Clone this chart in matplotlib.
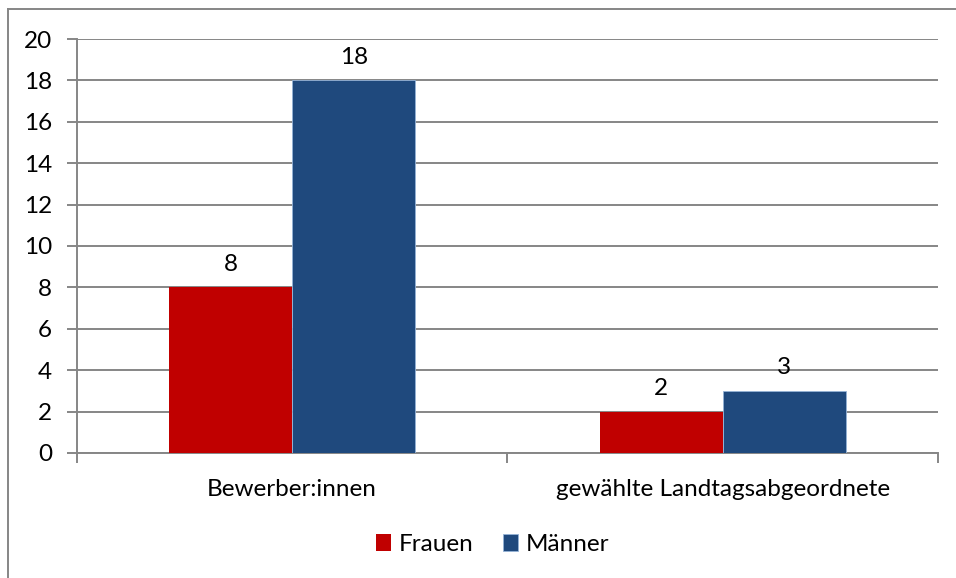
import matplotlib.pyplot as plt
from matplotlib.lines import Line2D

categories = ['Bewerber:innen', 'gewählte Landtagsabgeordnete']
frauen = [8, 2]
maenner = [18, 3]
series_names = ['Frauen', 'Männer']
yticks = [0, 2, 4, 6, 8, 10, 12, 14, 16, 18, 20]

red = '#C00000'
blue = '#1F497D'
grey = '#868686'
fs = 17.5

plt.rcParams['font.family'] = ['Lato', 'DejaVu Sans']

fig = plt.figure(figsize=(9.56, 5.78), dpi=100)
ax = fig.add_axes([0.0805, 0.2163, 0.9005, 0.7162])

w = 0.286
x = list(range(len(categories)))
b1 = ax.bar([i - w / 2 for i in x], frauen, w, color=red, label=series_names[0], zorder=3)
b2 = ax.bar([i + w / 2 for i in x], maenner, w, color=blue, label=series_names[1], zorder=3,
            edgecolor='#95B3D7', linewidth=0.6)

for bars in (b1, b2):
    for r in bars:
        ax.annotate(f'{r.get_height():g}', (r.get_x() + r.get_width() / 2, r.get_height()),
                    xytext=(0, 12), textcoords='offset points', ha='center', va='baseline',
                    fontsize=fs, color='black')

ax.set_xlim(-0.5, 1.5)
ax.set_ylim(0, 20)
ax.set_yticks(yticks)
ax.yaxis.grid(True, color=grey, linewidth=1.4, zorder=0)
ax.set_axisbelow(True)

ax.set_xticks(x)
ax.set_xticklabels(categories)
ax.set_xticks([-0.5, 0.5, 1.5], minor=True)
ax.tick_params(axis='x', which='major', length=0, pad=19, labelsize=fs)
ax.tick_params(axis='x', which='minor', length=7, width=1.4, color=grey, direction='out')
ax.tick_params(axis='y', length=7, width=1.4, color=grey, pad=11, labelsize=fs)

for s in ('top', 'right'):
    ax.spines[s].set_visible(False)
for s in ('left', 'bottom'):
    ax.spines[s].set_color(grey)
    ax.spines[s].set_linewidth(1.4)

fig.legend(handles=[b1, b2], labels=series_names, loc='center', bbox_to_anchor=(0.515, 0.058),
           ncol=2, frameon=False, fontsize=fs, handlelength=0.65, handleheight=0.65,
           handletextpad=0.3, columnspacing=1.2)

# outer chart frame (cut off at right and bottom)
fig.add_artist(Line2D([8 / 956, 8 / 956], [1 - 9 / 578, 0], color=grey, linewidth=1.4,
                      transform=fig.transFigure))
fig.add_artist(Line2D([8 / 956, 1], [1 - 9 / 578, 1 - 9 / 578], color=grey, linewidth=1.4,
                      transform=fig.transFigure))

fig.savefig('out.png', dpi=100)
